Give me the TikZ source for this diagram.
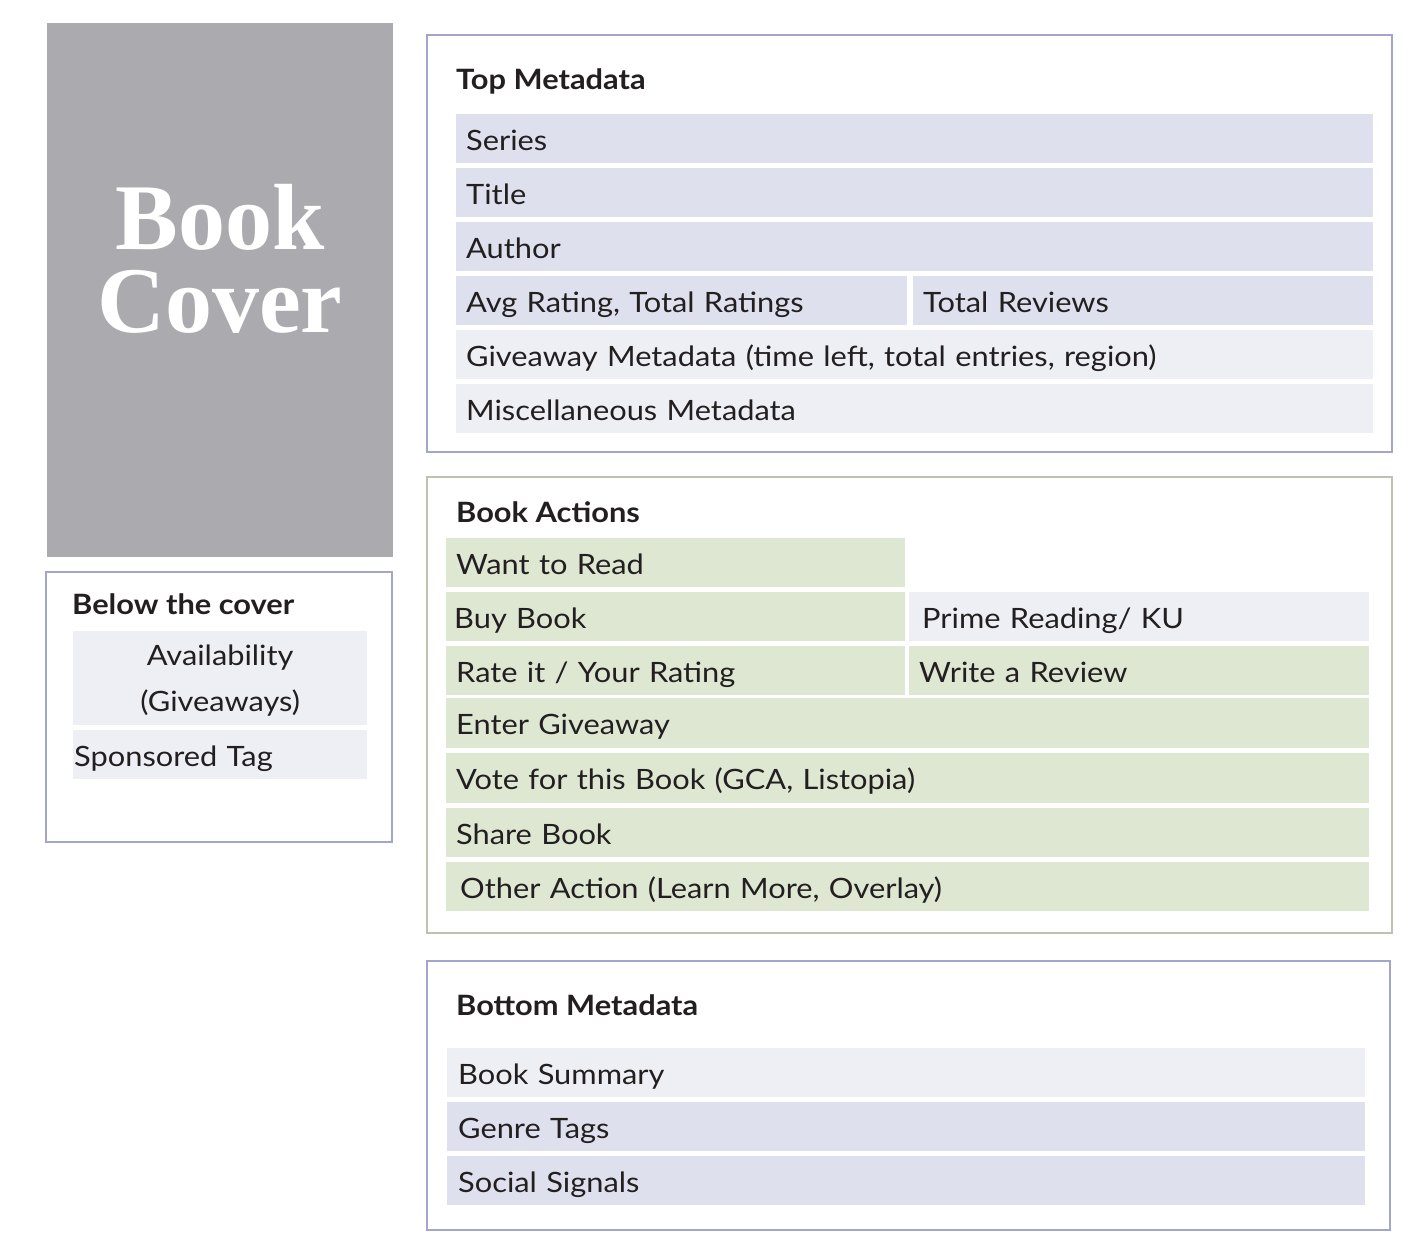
\documentclass[tikz,border=0pt]{standalone}
\usepackage{fontspec}
\setmainfont{Lato}[FakeStretch=1.1]
\newfontfamily\coverfont{Liberation Serif}
\definecolor{covergray}{HTML}{ABAAAF}
\definecolor{lavdark}{HTML}{DEE0EE}
\definecolor{lavlight}{HTML}{EEEFF5}
\definecolor{greencell}{HTML}{DDE7D2}
\definecolor{blueborder}{HTML}{A3A6CB}
\definecolor{greenborder}{HTML}{BCC3AE}
\definecolor{ink}{HTML}{231F20}
\begin{document}
\begin{tikzpicture}[x=1pt,y=-1pt,
  panel/.style={draw=#1, line width=1.8pt, fill=white},
  heading/.style={anchor=base west, inner sep=0pt, font=\fontsize{28}{32}\selectfont\bfseries, text=ink},
  cell/.style={anchor=north west, inner xsep=10pt, inner ysep=0pt, minimum height=49pt, align=left,
    text height=25pt, text depth=2pt,
    font=\fontsize{28}{32}\selectfont, text=ink, fill=#1},
  covertxt/.style={text=white, font=\coverfont\fontsize{94}{84}\selectfont\bfseries, anchor=base, inner sep=0pt,
    text height=64pt, text depth=0pt},
]
\useasboundingbox (0,0) rectangle (1424,1252);
\fill[white] (0,0) rectangle (1424,1252);

% Book cover
\node[fill=covergray, anchor=north west, minimum width=346pt, minimum height=534pt, inner sep=0pt] (cover) at (47,23) {};
\node[covertxt] (covertop) at (220,249) {Book};
\node[covertxt] (coverbot) at (220,332) {Cover};

% Below the cover
\draw[panel=blueborder] (46,572) rectangle (392,842);
\node[heading] (belowh) at (72,614) {Below the cover};
\node[cell=lavlight, text width=274pt, align=center, minimum height=94pt, text height=, text depth=, font=\fontsize{28}{46}\selectfont] (avail) at (73,631) {\rule{0pt}{25pt}Availability\\(Giveaways)};
\node[cell=lavlight, text width=292pt, inner xsep=1pt, minimum height=49pt] (sponsored) at (73,730) {Sponsored Tag};

% Top Metadata
\draw[panel=blueborder] (427,35) rectangle (1392,452);
\node[heading] (toph) at (456,90) {Top Metadata};
\node[cell=lavdark, text width=897pt] (series) at (456,114) {Series};
\node[cell=lavdark, text width=897pt] (title) at (456,168) {Title};
\node[cell=lavdark, text width=897pt] (author) at (456,222) {Author};
\node[cell=lavdark, text width=431pt] (avg) at (456,276) {Avg Rating, Total Ratings};
\node[cell=lavdark, text width=440pt] (reviews) at (913,276) {Total Reviews};
\node[cell=lavlight, text width=897pt] (giveaway) at (456,330) {Giveaway Metadata (time left, total entries, region)};
\node[cell=lavlight, text width=897pt] (misc) at (456,384) {Miscellaneous Metadata};

% Book Actions
\draw[panel=greenborder] (427,477) rectangle (1392,933);
\node[heading] (acth) at (456,522) {Book Actions};
\node[cell=greencell, text width=439pt] (want) at (446,538) {Want to Read};
\node[cell=greencell, text width=443pt, inner xsep=8pt] (buy) at (446,592) {Buy Book};
\node[cell=lavlight, text width=434pt, inner xsep=13pt] (prime) at (909,592) {Prime Reading/ KU};
\node[cell=greencell, text width=439pt] (rate) at (446,646) {Rate it / Your Rating};
\node[cell=greencell, text width=440pt] (write) at (909,646) {Write a Review};
\node[cell=greencell, text width=903pt, minimum height=50pt] (enter) at (446,698) {Enter Giveaway};
\node[cell=greencell, text width=903pt, minimum height=50pt] (vote) at (446,753) {Vote for this Book (GCA, Listopia)};
\node[cell=greencell, text width=903pt] (share) at (446,808) {Share Book};
\node[cell=greencell, text width=895pt, inner xsep=14pt] (other) at (446,862) {Other Action (Learn More, Overlay)};

% Bottom Metadata
\draw[panel=blueborder] (427,961) rectangle (1390,1230);
\node[heading] (both) at (456,1015) {Bottom Metadata};
\node[cell=lavlight, text width=896pt, inner xsep=11pt] (summary) at (447,1048) {Book Summary};
\node[cell=lavdark, text width=896pt, inner xsep=11pt] (genre) at (447,1102) {Genre Tags};
\node[cell=lavdark, text width=896pt, inner xsep=11pt] (social) at (447,1156) {Social Signals};
\end{tikzpicture}
\end{document}
